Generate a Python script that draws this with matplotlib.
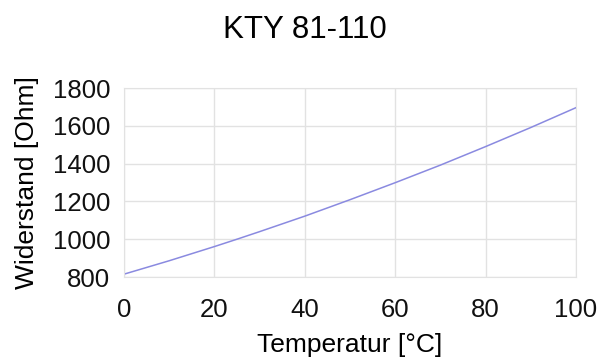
import matplotlib
matplotlib.use("Agg")
import matplotlib.pyplot as plt

plt.rcParams["font.family"] = ["Liberation Sans", "DejaVu Sans"]

# KTY 81-110 resistance over temperature
temp_c = [0, 10, 20, 25, 30, 40, 50, 60, 70, 80, 90, 100]
resistance_ohm = [815, 886, 961, 1000, 1040, 1122, 1209, 1299, 1392, 1490, 1591, 1696]
x_ticks = [0, 20, 40, 60, 80, 100]
y_ticks = [800, 1000, 1200, 1400, 1600, 1800]

fig = plt.figure(figsize=(6.12, 3.63), dpi=100)
ax = fig.add_axes([124 / 612, 1 - 277 / 363, (576 - 124) / 612, (277 - 88) / 363])

ax.plot(temp_c, resistance_ohm, color="#8a8ae0", linewidth=1.1)
ax.set_xlim(0, 100)
ax.set_ylim(800, 1800)
ax.set_xticks(x_ticks)
ax.set_yticks(y_ticks)
ax.grid(True, color="#e2e2e2", linewidth=1.0)
ax.set_axisbelow(True)
for s in ax.spines.values():
    s.set_color("#e2e2e2")
ax.tick_params(length=0, labelsize=18.5, colors="#111111")
ax.tick_params(axis="y", pad=10)
ax.tick_params(axis="x", pad=15)

ax.set_xlabel("Temperatur [°C]", fontsize=19, labelpad=8)
ax.set_ylabel("Widerstand [Ohm]", fontsize=19, labelpad=10)
fig.text(305 / 612, 1 - 30 / 363, "KTY 81-110", fontsize=22.5, ha="center", va="center")

fig.savefig("out.png", dpi=100, facecolor="white")
